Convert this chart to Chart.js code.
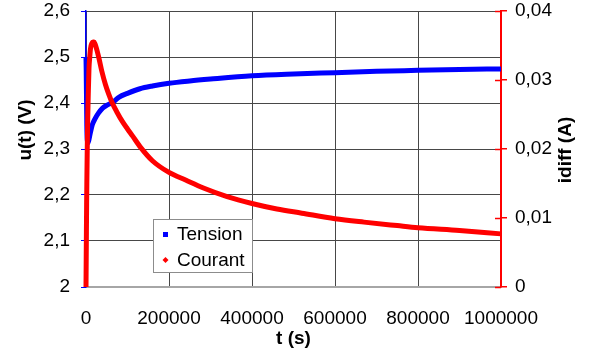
<!DOCTYPE html>
<html lang="fr">
<head>
<meta charset="utf-8">
<title>Tension et courant de diffusion</title>
<script src="https://cdn.jsdelivr.net/npm/chart.js@4.4.1/dist/chart.umd.min.js"></script>
<style>
  html, body { margin: 0; background: #fff; }
  #wrap { width: 594px; height: 356px; position: relative; }
</style>
</head>
<body>
<div id="wrap"><canvas id="c"></canvas></div>
<script>
'use strict';

/* mesures : temps (s), tension u(t) (V), courant idiff (A) */
const tTension = [0, 500, 1000, 1500, 2000, 3000, 4500, 7000, 10000, 15000, 22000, 30000, 40000, 52000, 65000,
  80000, 100000, 130000, 160000, 200000, 250000, 300000, 400000, 500000, 600000, 700000, 800000, 900000, 1000000];
const uTension = [2.500, 2.470, 2.430, 2.390, 2.350, 2.320, 2.313, 2.320, 2.333, 2.352, 2.366, 2.378, 2.389, 2.396, 2.402,
  2.413, 2.421, 2.431, 2.437, 2.443, 2.448, 2.452, 2.459, 2.463, 2.466, 2.469, 2.471, 2.473, 2.474];

const tCourant = [0, 500, 1000, 1500, 2000, 3000, 4000, 5500, 7200, 9000, 11000, 14000, 17000, 19300, 22000, 26000,
  31000, 38000, 47000, 55000, 63000, 75000, 87500, 100000, 112000, 132000, 160000, 200000, 240000, 283000, 340000,
  400000, 460000, 520000, 600000, 670000, 750000, 800000, 900000, 1000000];
const iCourant = [0, 0.004, 0.008, 0.012, 0.015, 0.020, 0.024, 0.028, 0.0317, 0.0333, 0.0346, 0.0353, 0.0355, 0.0355, 0.0352, 0.0344,
  0.0332, 0.0313, 0.0293, 0.0279, 0.0267, 0.0253, 0.0240, 0.0229, 0.0219, 0.0202, 0.0183, 0.0166, 0.0155, 0.01435, 0.0131,
  0.0121, 0.0113, 0.0107, 0.0099, 0.0094, 0.0089, 0.0086, 0.0082, 0.0077];

/* graduations */
const tTicks = [0, 200000, 400000, 600000, 800000, 1000000];
const uTicks = [2, 2.1, 2.2, 2.3, 2.4, 2.5, 2.6];
const iTicks = [0, 0.01, 0.02, 0.03, 0.04];

const BLEU = '#0000ff', ROUGE = '#ff0000', GRILLE = '#474747';
const POLICE = "'Liberation Sans', Arial, sans-serif";

const pts = (xs, ys) => xs.map((x, i) => ({ x, y: ys[i] }));
const virgule = v => String(+v.toFixed(3)).replace('.', ',');
const fixTicks = arr => s => { s.ticks = arr.map(value => ({ value })); };
// largeur imposée des axes verticaux, marge haute fixe du tracé
const fitVertical = w => s => { s.width = w; s.paddingTop = 11; s.paddingBottom = 0; };

/* titre vertical, lu de bas en haut */
function vertical(ctx, txt, x, y) {
  ctx.save(); ctx.translate(x, y); ctx.rotate(-Math.PI / 2); ctx.fillText(txt, 0, 0); ctx.restore();
}

/* titres des axes, demi-graduations rouges et légende dans le tracé */
const habillage = {
  id: 'habillage',
  afterDraw(chart) {
    const { ctx, chartArea: a, scales } = chart;
    ctx.save();
    ctx.strokeStyle = ROUGE; ctx.lineWidth = 1.5;
    scales.y2.ticks.forEach(t => {
      const y = Math.round(scales.y2.getPixelForValue(t.value)) + 0.5;
      ctx.beginPath(); ctx.moveTo(a.right - 6, y); ctx.lineTo(a.right, y); ctx.stroke();
    });

    ctx.fillStyle = '#000'; ctx.font = 'bold 19px ' + POLICE;
    ctx.textAlign = 'center'; ctx.textBaseline = 'middle';
    ctx.fillText('t (s)', (a.left + a.right) / 2, 339);
    vertical(ctx, 'u(t) (V)', 26, 130);
    vertical(ctx, 'idiff (A)', 566, 150);

    // légende
    ctx.fillStyle = '#fff'; ctx.fillRect(153, 219, 99, 53);
    ctx.strokeStyle = '#8c8c8c'; ctx.lineWidth = 1; ctx.strokeRect(153.5, 219.5, 99, 53);
    ctx.fillStyle = BLEU; ctx.fillRect(163, 232, 5, 5);
    ctx.fillStyle = ROUGE;
    ctx.beginPath(); ctx.moveTo(165.5, 257); ctx.lineTo(168.5, 260); ctx.lineTo(165.5, 263); ctx.lineTo(162.5, 260); ctx.closePath(); ctx.fill();
    ctx.fillStyle = '#000'; ctx.font = '19px ' + POLICE; ctx.textAlign = 'left';
    ctx.fillText('Tension', 177, 235);
    ctx.fillText('Courant', 177, 261);
    ctx.restore();
  }
};

new Chart(document.getElementById('c'), {
  type: 'scatter',
  data: { datasets: [
    { label: 'Tension', data: pts(tTension, uTension), yAxisID: 'y', order: 1, clip: 6,
      borderColor: BLEU, backgroundColor: BLEU, showLine: true, pointRadius: 0, borderWidth: 5, cubicInterpolationMode: 'monotone' },
    { label: 'Courant', data: pts(tCourant, iCourant), yAxisID: 'y2', order: 0, clip: 6,
      borderColor: ROUGE, backgroundColor: ROUGE, showLine: true, pointRadius: 0, borderWidth: 5, cubicInterpolationMode: 'monotone' },
  ] },
  options: {
    responsive: true, maintainAspectRatio: false, animation: false,
    layout: { padding: 0 },
    plugins: { legend: { display: false }, tooltip: { enabled: false } },
    scales: {
      x: {
        type: 'linear', min: 0, max: 1000000, afterBuildTicks: fixTicks(tTicks), afterFit: s => { s.height = 69; },
        grid: { color: GRILLE, drawTicks: false }, border: { color: '#a6a6a6', width: 2 },
        ticks: { padding: 20, maxRotation: 0, autoSkip: false, color: '#000', font: { family: POLICE, size: 19 }, callback: v => String(v) },
      },
      y: {
        position: 'left', min: 2, max: 2.6, afterBuildTicks: fixTicks(uTicks), afterFit: fitVertical(86),
        grid: { color: c => (c.tick && c.tick.value === 2 ? 'rgba(0,0,0,0)' : GRILLE), tickColor: BLEU, tickLength: 5 },
        border: { color: BLEU, width: 1.5 },
        ticks: { padding: 11, color: '#000', font: { family: POLICE, size: 19 }, callback: virgule },
      },
      y2: {
        position: 'right', min: 0, max: 0.04, afterBuildTicks: fixTicks(iTicks), afterFit: fitVertical(93),
        grid: { drawOnChartArea: false, tickColor: ROUGE, tickLength: 6, lineWidth: 1.5 },
        border: { color: ROUGE, width: 2 },
        ticks: { padding: 8, color: '#000', font: { family: POLICE, size: 19 }, callback: virgule },
      },
    },
  },
  plugins: [habillage],
});
</script>
</body>
</html>
